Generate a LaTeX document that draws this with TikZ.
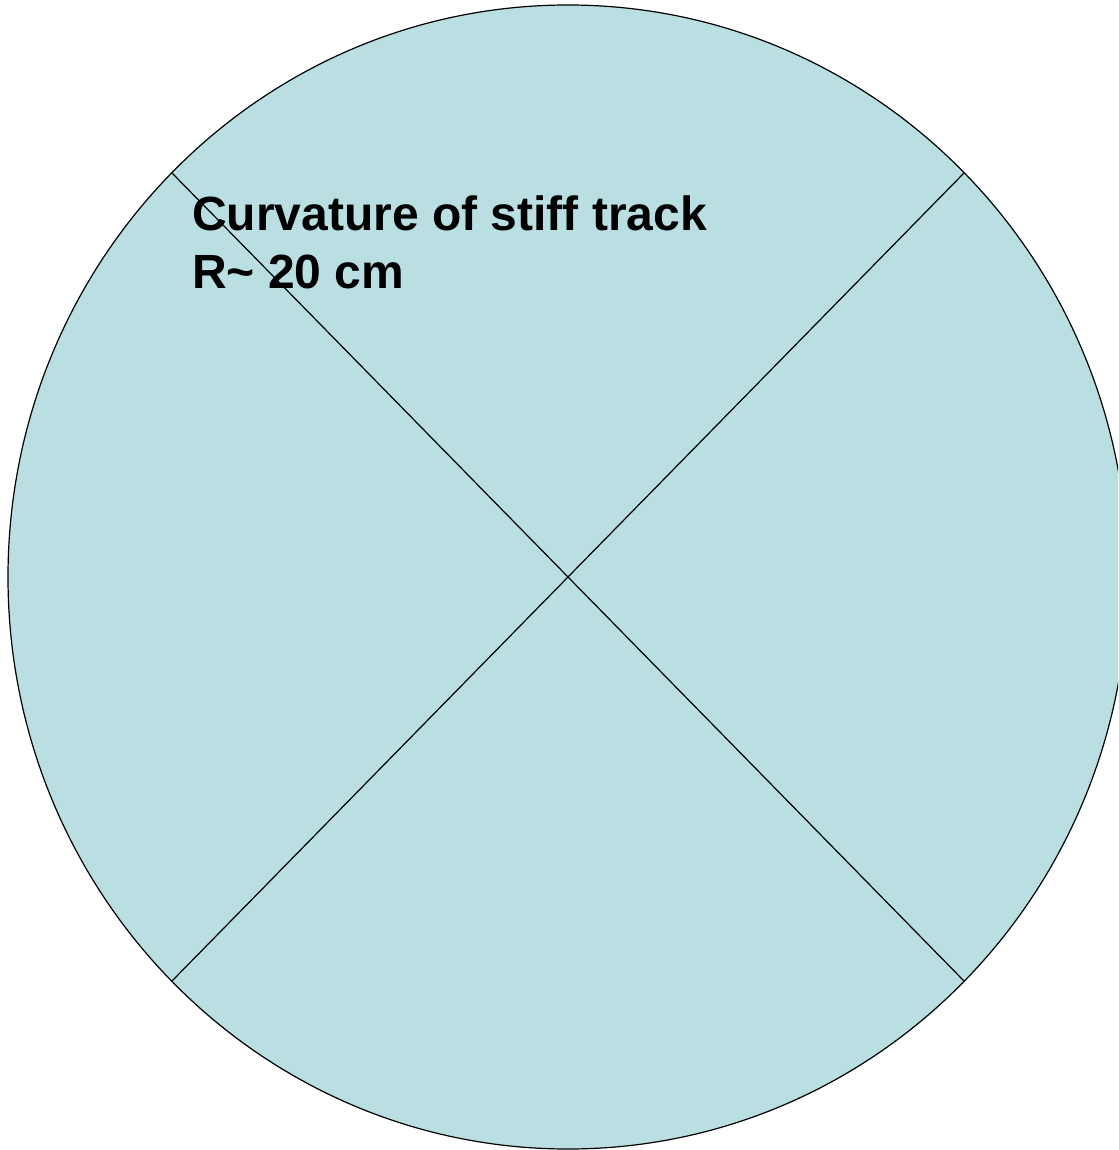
\documentclass[tikz,border=0pt]{standalone}
\usepackage{fontspec}
\setmainfont{Liberation Sans}
\definecolor{disc}{RGB}{185,223,227}
\begin{document}
\begin{tikzpicture}[x=1pt,y=-1pt,
  outline/.style={draw=black,line width=1.2pt},
  label/.style={anchor=base west,inner sep=0pt,font=\fontsize{48}{57.5}\selectfont\bfseries}]
\useasboundingbox (0,0) rectangle (1118,1150);
\clip (0,0) rectangle (1118,1150);
\coordinate (c) at (568,577);
\filldraw[fill=disc,outline] (c) ellipse [x radius=560,y radius=572];
\coordinate (ul) at (172,173);
\coordinate (ur) at (964,173);
\coordinate (ll) at (172,981);
\coordinate (lr) at (964,981);
\draw[outline] (ul) -- (lr);
\draw[outline] (ur) -- (ll);
\node[label] (t1) at (192,231) {Curvature of stiff track};
\node[label] (t2) at (192,288) {R\char`\~{} 20 cm};
\end{tikzpicture}
\end{document}
